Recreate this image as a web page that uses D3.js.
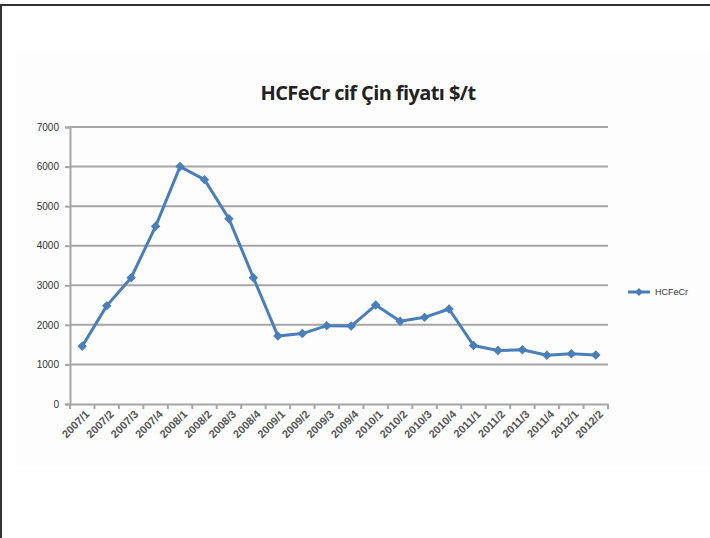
<!DOCTYPE html>
<head>
<meta charset="utf-8">
<style>
body { margin: 0; background: #fff; }
svg { display: block; }
.title { font-family: "Open Sans", sans-serif; font-weight: bold; font-size: 20px; fill: #222; letter-spacing: -0.6px; }
.ylab { font-family: "Liberation Sans", Arial, sans-serif; font-size: 10px; fill: #333; }
.xlab { font-family: "Liberation Sans", Arial, sans-serif; font-size: 11px; font-weight: bold; fill: #555; }
.leg { font-family: "Liberation Sans", Arial, sans-serif; font-size: 9px; fill: #333; }
</style>
</head>
<body>
<svg width="710" height="538"></svg>
<script src="https://d3js.org/d3.v7.min.js"></script>
<script>
var categories = ["2007/1","2007/2","2007/3","2007/4","2008/1","2008/2","2008/3","2008/4",
  "2009/1","2009/2","2009/3","2009/4","2010/1","2010/2","2010/3","2010/4",
  "2011/1","2011/2","2011/3","2011/4","2012/1","2012/2"];
var prices = [1460, 2480, 3190, 4490, 6000, 5670, 4680, 3190,
  1720, 1780, 1980, 1970, 2500, 2090, 2190, 2400,
  1480, 1350, 1370, 1230, 1270, 1240];
var yTicks = [0, 1000, 2000, 3000, 4000, 5000, 6000, 7000];
var seriesName = "HCFeCr";
var chartTitle = "HCFeCr cif Çin fiyatı $/t";

var svg = d3.select("svg");
var blue = "#4a7ebb";

// outer frame (top + left only)
svg.append("line").attr("x1", 0).attr("x2", 710).attr("y1", 5).attr("y2", 5)
  .attr("stroke", "#333").attr("stroke-width", 2);
svg.append("line").attr("x1", 1).attr("x2", 1).attr("y1", 5).attr("y2", 538)
  .attr("stroke", "#333").attr("stroke-width", 2);

// faint chart area
svg.append("rect").attr("x", 16).attr("y", 55).attr("width", 694).attr("height", 411)
  .attr("fill", "#fdfdfd");

var plotL = 70, plotR = 608, plotT = 127, plotB = 404;

var x = d3.scaleBand().domain(categories).range([plotL, plotR]);
var y = d3.scaleLinear().domain([0, 7000]).range([plotB, plotT]);

svg.append("text").attr("class", "title")
  .attr("x", 368).attr("y", 100).attr("text-anchor", "middle")
  .text(chartTitle);

// gridlines
svg.append("g").selectAll("line").data(yTicks.slice(1)).enter().append("line")
  .attr("x1", plotL).attr("x2", plotR)
  .attr("y1", function(d) { return y(d); }).attr("y2", function(d) { return y(d); })
  .attr("stroke", "#a6a6a6").attr("stroke-width", 2);

// y axis
var yAxis = svg.append("g").attr("transform", "translate(" + plotL + ",0)")
  .call(d3.axisLeft(y).tickValues(yTicks).tickFormat(d3.format("d")).tickSize(5).tickPadding(6));
yAxis.select(".domain").attr("stroke", "#a6a6a6").attr("stroke-width", 2);
yAxis.selectAll(".tick line").attr("stroke", "#a6a6a6").attr("stroke-width", 2);
yAxis.attr("font-family", null).attr("font-size", null);
yAxis.selectAll("text").attr("class", "ylab").attr("fill", null);

// x axis
var xAxis = svg.append("g").attr("transform", "translate(0," + plotB + ")")
  .call(d3.axisBottom(x).tickSize(0).tickPadding(6));
xAxis.select(".domain").attr("stroke", "#a6a6a6").attr("stroke-width", 2);
xAxis.attr("font-family", null).attr("font-size", null);
xAxis.selectAll("text").attr("class", "xlab").attr("fill", null)
  .attr("text-anchor", "end")
  .attr("transform", "translate(1,4) rotate(-45)")
  .attr("dy", "0.35em");
// category boundary ticks
svg.append("g").selectAll("line").data(d3.range(categories.length + 1)).enter().append("line")
  .attr("x1", function(i) { return plotL + i * x.step(); })
  .attr("x2", function(i) { return plotL + i * x.step(); })
  .attr("y1", plotB).attr("y2", plotB + 5)
  .attr("stroke", "#a6a6a6").attr("stroke-width", 2);

// line
var line = d3.line()
  .x(function(d, i) { return x(categories[i]) + x.bandwidth() / 2; })
  .y(function(d) { return y(d); });
svg.append("path").datum(prices).attr("d", line)
  .attr("fill", "none").attr("stroke", blue).attr("stroke-width", 3)
  .attr("stroke-linejoin", "round");

var diamond = d3.symbol().type(d3.symbolSquare).size(32);
svg.append("g").selectAll("path").data(prices).enter().append("path")
  .attr("d", diamond)
  .attr("transform", function(d, i) {
    return "translate(" + (x(categories[i]) + x.bandwidth() / 2) + "," + y(d) + ") rotate(45)";
  })
  .attr("fill", blue).attr("stroke", blue);

// legend
var lg = svg.append("g").attr("transform", "translate(628,292)");
lg.append("line").attr("x1", 0).attr("x2", 22).attr("stroke", blue).attr("stroke-width", 3);
lg.append("path").attr("d", diamond).attr("transform", "translate(11,0) rotate(45)").attr("fill", blue);
lg.append("text").attr("class", "leg").attr("x", 27).attr("dy", "0.35em").text(seriesName);
</script>
</body>
